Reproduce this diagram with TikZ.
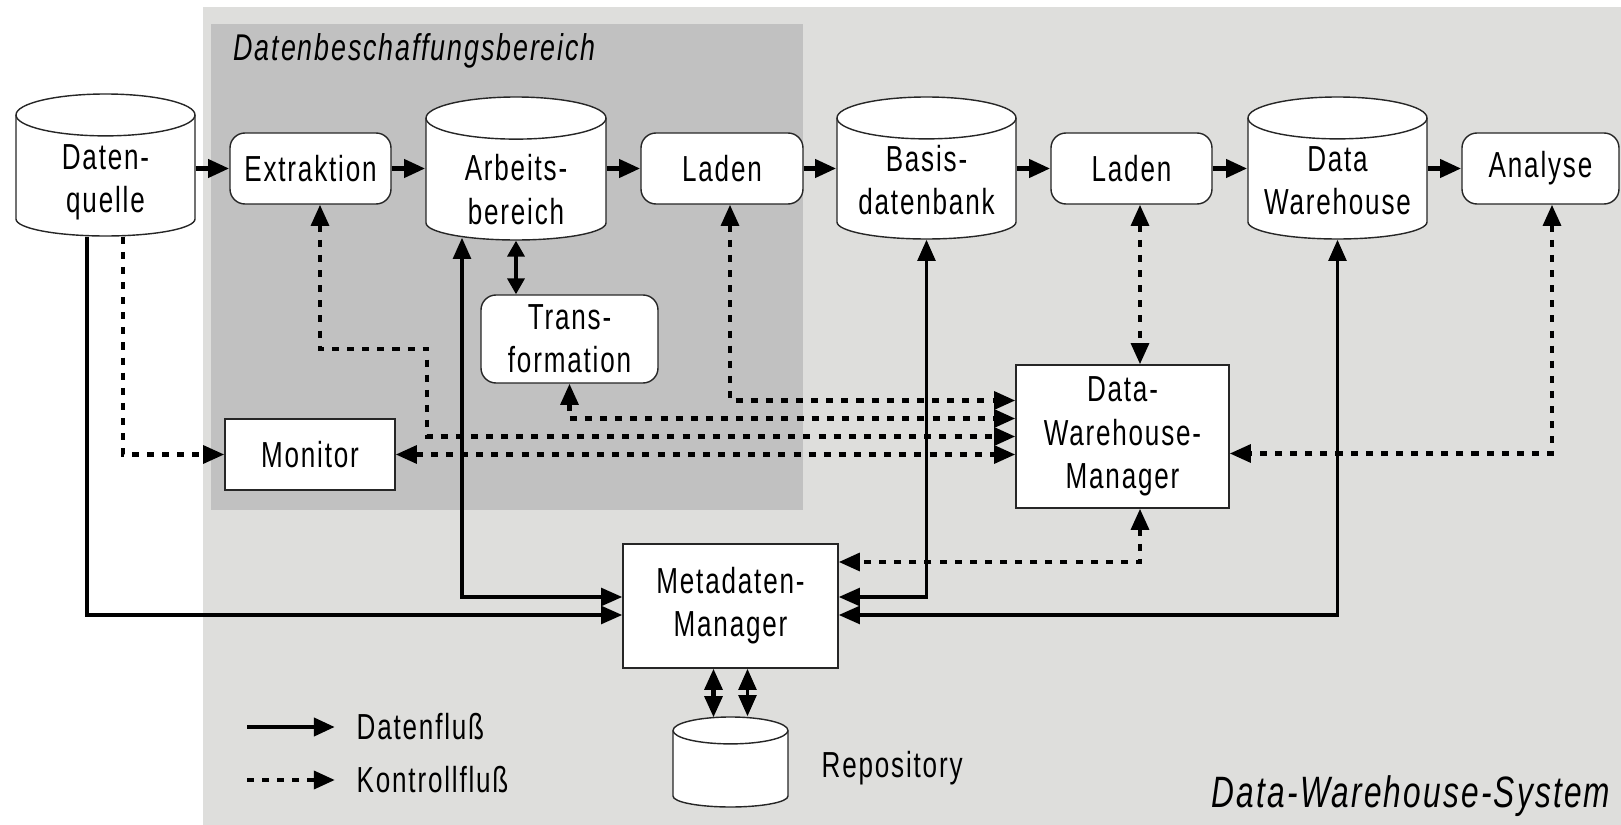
\documentclass[tikz,border=0pt]{standalone}
\usepackage{fontspec}
\setmainfont{Liberation Sans}[FakeStretch=0.72,LetterSpace=5]
\usetikzlibrary{arrows.meta}
\definecolor{bglight}{RGB}{222,222,220}
\definecolor{bgdark}{RGB}{193,193,193}

\begin{document}
\begin{tikzpicture}[
    font=\fontsize{10.3pt}{12.3pt}\selectfont,
    >={Triangle[length=6pt,width=5pt]},
    box/.style={draw=black!85, fill=white, line width=0.4pt, inner sep=0pt, align=center},
    proc/.style={box, rounded corners=0.15cm, minimum width=1.61cm, minimum height=0.71cm},
    mgr/.style={box, minimum height=1.24cm},
    cyl/.style={draw=black!85, fill=white, line width=0.4pt},
    dbbox/.style={inner sep=0pt},
    dbtext/.style={inner sep=0pt, align=center},
    mainflow/.style={line width=1.4pt, ->},
    data/.style={line width=1pt, ->},
    ctrl/.style={line width=1.2pt, dash pattern=on 2pt off 2.3pt, ->},
    title/.style={inner sep=0pt, font=\fontsize{10.6pt}{12.3pt}\selectfont\itshape}
  ]
  \useasboundingbox (0,0) rectangle (16.21,8.25);
  \fill[bglight] (2.03,0) rectangle (16.21,8.18);
  \fill[bgdark] (2.11,3.15) rectangle (8.03,8.01);
  \node[title, anchor=base west] (areaname) at (2.33,7.64) {Datenbeschaffungsbereich};
  \node[title, anchor=base east, font=\fontsize{12.5pt}{14pt}\selectfont\itshape] (sysname) at (16.11,0.17) {Data-Warehouse-System};

  % Datenbanken
  \foreach \n/\x/\y/\w/\h/\d/\t in {quelle/1.055/6.60/1.79/1.42/0.17/{Daten-\\quelle},
      arb/5.16/6.565/1.80/1.43/0.21/{Arbeits-\\bereich},
      basis/9.265/6.57/1.79/1.42/0.12/{Basis-\\datenbank},
      dw/13.375/6.57/1.79/1.42/0.125/{Data\\Warehouse},
      repo/7.305/0.63/1.15/0.90/0/{}}{
    \pgfmathsetmacro\rt{0.117*\w}
    \pgfmathsetmacro\rb{0.095*\w}
    \filldraw[cyl] ({\x-\w/2},{\y+\h/2-\rt}) -- ({\x-\w/2},{\y-\h/2+\rb})
      arc[start angle=180, end angle=360, x radius=\w/2, y radius=\rb]
      -- ({\x+\w/2},{\y+\h/2-\rt})
      arc[start angle=0, end angle=180, x radius=\w/2, y radius=\rt] -- cycle;
    \draw[cyl, fill=none] ({\x-\w/2},{\y+\h/2-\rt})
      arc[start angle=180, end angle=360, x radius=\w/2, y radius=\rt];
    \node[dbbox, minimum width=\w cm, minimum height=\h cm] (\n) at (\x,\y) {};
    \node[dbtext] (\n-text) at (\x,{\y-\d}) {\t};
  }

  % obere Reihe
  \coordinate (row) at (0,6.565);
  \node[proc] (extr) at (3.105,6.565) {Extraktion};
  \node[proc, minimum width=1.62cm] (laden1) at (7.22,6.565) {Laden};
  \node[proc] (laden2) at (11.315,6.565) {Laden};
  \node[proc, minimum width=1.57cm] (analyse) at (15.405,6.565) {Analyse};
  \foreach \a/\b in {quelle/extr,extr/arb,arb/laden1,laden1/basis,basis/laden2,laden2/dw,dw/analyse}
    \draw[mainflow] (\a.east |- row) -- (\b.west |- row);

  \node[proc, minimum width=1.77cm, minimum height=0.88cm] (trans) at (5.695,4.86) {Trans-\\formation};
  \node[mgr, minimum width=1.70cm, minimum height=0.71cm] (monitor) at (3.10,3.705) {Monitor};
  \node[mgr, minimum width=2.13cm, minimum height=1.43cm] (dwm) at (11.225,3.885) {Data-\\Warehouse-\\Manager};
  \node[mgr, minimum width=2.15cm] (meta) at (7.305,2.19) {Metadaten-\\Manager};
  \node[anchor=base west, inner sep=0pt] (reponame) at (8.21,0.48) {Repository};

  % Datenfluss
  \draw[data] ([xshift=-0.185cm]quelle.south) |- ([yshift=-0.09cm]meta.west);
  \draw[data,<->] ([xshift=-0.54cm,yshift=0.03cm]arb.south) |- ([yshift=0.09cm]meta.west);
  \draw[data,<->] (basis.south) |- ([yshift=0.09cm]meta.east);
  \draw[data,<->] (dw.south) |- ([yshift=-0.09cm]meta.east);
  \draw[data,<->,>={Triangle[length=4.5pt,width=4.8pt]}] (arb.south) -- (arb.south |- trans.north);
  \draw[data,<->] ([xshift=0.17cm]meta.south) -- ([xshift=0.17cm]repo.north);

  % Kontrollfluss
  \draw[ctrl] ([xshift=0.175cm]quelle.south) |- (monitor.west);
  \draw[ctrl,<->] (monitor.east) -- (monitor.east -| dwm.west);
  \draw[ctrl,<->] ([xshift=0.095cm]extr.south) -- ++(0,-1.44) -- ++(1.07,0) |- (dwm.west);
  \draw[ctrl,<->] (trans.south) |- ([yshift=0.18cm]dwm.west);
  \draw[ctrl,<->] ([xshift=0.08cm]laden1.south) |- ([yshift=0.36cm]dwm.west);
  \draw[ctrl,<->] ([xshift=0.085cm]laden2.south) -- ([xshift=0.175cm]dwm.north);
  \draw[ctrl,<->] ([xshift=0.115cm]analyse.south) |- ([yshift=-0.17cm]dwm.east);
  \draw[ctrl,<->] ([xshift=0.175cm]dwm.south) |- ([yshift=0.44cm]meta.east);
  \draw[ctrl,<->] ([xshift=-0.17cm]meta.south) -- ([xshift=-0.17cm,yshift=-0.01cm]repo.north);

  % Legende
  \coordinate (lgdA) at (2.47,0.98);
  \coordinate (lgdB) at (3.35,0.98);
  \coordinate (lgdC) at (2.47,0.45);
  \coordinate (lgdD) at (3.35,0.45);
  \draw[data, line width=1.4pt] (lgdA) -- (lgdB);
  \draw[ctrl, line width=1.3pt] (lgdC) -- (lgdD);
  \node[anchor=base west, inner sep=0pt] (lgdata) at (3.56,0.85) {Datenfluß};
  \node[anchor=base west, inner sep=0pt] (lgctrl) at (3.56,0.32) {Kontrollfluß};
\end{tikzpicture}
\end{document}
